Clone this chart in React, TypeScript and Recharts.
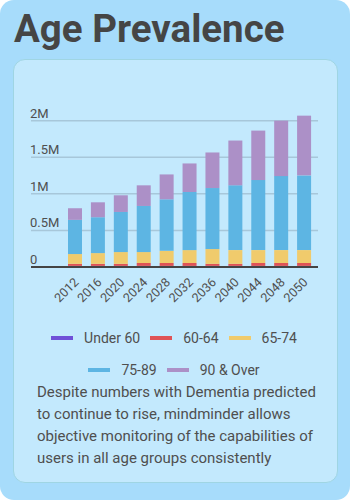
import React from 'react';
import { BarChart, Bar, XAxis, YAxis, CartesianGrid, Legend } from 'recharts';

const years = ['2012', '2016', '2020', '2024', '2028', '2032', '2036', '2040', '2044', '2048', '2050'];
const under60 = [15000, 15000, 15000, 15000, 15000, 15000, 15000, 15000, 15000, 15000, 15000];
const age6064 = [28000, 28000, 28000, 40000, 40000, 40000, 28000, 28000, 40000, 40000, 40000];
const age6574 = [134000, 147000, 161000, 149000, 167000, 176000, 202000, 188000, 176000, 176000, 176000];
const age7589 = [467000, 490000, 548000, 630000, 703000, 794000, 834000, 885000, 957000, 1011000, 1021000];
const age90plus = [159000, 204000, 228000, 282000, 340000, 390000, 486000, 612000, 676000, 758000, 816000];

const seriesNames = ['Under 60', '60-64', '65-74', '75-89', '90 & Over'];
const seriesKeys = ['u60', 'a6064', 'a6574', 'a7589', 'a90'];
const seriesColors = ['#6f50d8', '#df5356', '#f0cb6c', '#5db5e3', '#ac90c7'];

const yTicks = [0, 500000, 1000000, 1500000, 2000000];
const yTickLabels = ['0', '0.5M', '1M', '1.5M', '2M'];

const data = years.map((y, i) => ({
  year: y,
  u60: under60[i],
  a6064: age6064[i],
  a6574: age6574[i],
  a7589: age7589[i],
  a90: age90plus[i],
}));

const TEXT = '#4f4f4f';

const fmtY = (v: number) => {
  const idx = yTicks.indexOf(Number(v));
  return idx >= 0 ? yTickLabels[idx] : String(v);
};

const renderYTick = (props: any) => {
  const v = props.payload ? props.payload.value : 0;
  return (
    <text key={`yt-${v}`} x={30} y={props.y - 3} fill={TEXT} fontSize={13} fontFamily="Roboto" textAnchor="start">
      {fmtY(v)}
    </text>
  );
};

const renderXTick = (props: any) => {
  const X = props.x + 4;
  const Y = props.y + 8;
  return (
    <text key={`xt-${props.payload.value}`} x={X} y={Y} fill={TEXT} fontSize={12.5} fontFamily="Roboto" textAnchor="end" transform={`rotate(-45, ${X}, ${Y})`}>
      {props.payload.value}
    </text>
  );
};

const LegendContent = () => (
  <div style={{ display: 'flex', flexWrap: 'wrap', justifyContent: 'center', fontFamily: 'Roboto', fontSize: 14, color: TEXT }}>
    {seriesNames.map((n, i) => (
      <div key={n} style={{ display: 'flex', alignItems: 'center', height: 32, margin: '0 5px' }}>
        <span style={{ display: 'inline-block', width: 22, height: 4, background: seriesColors[i], marginRight: 11 }} />
        <span>{n}</span>
      </div>
    ))}
  </div>
);

export default function App() {
  return (
    <div style={{ width: 350, height: 500, position: 'relative', fontFamily: 'Roboto' }}>
      <style>{`body{margin:0}`}</style>
      <div style={{ position: 'absolute', left: 0, top: 0, width: 350, height: 500, background: '#a7dcfb', borderRadius: 14 }} />
      <div style={{ position: 'absolute', left: 14, top: 9.5, fontSize: 38.5, lineHeight: '38px', fontWeight: 700, color: '#454545', whiteSpace: 'nowrap' }}>
        Age Prevalence
      </div>
      <div style={{ position: 'absolute', left: 13, top: 59, width: 325, height: 424, background: '#c3e9fd', border: '1.5px solid #9fd5e3', borderRadius: 12, boxSizing: 'border-box' }} />
      <div style={{ position: 'absolute', left: 0, top: 0 }}>
        <BarChart width={350} height={390} data={data} margin={{ top: 106, right: 32, bottom: 4, left: 30 }} barSize={14}>
          <CartesianGrid horizontal vertical={false} stroke="#a7c7da" strokeWidth={1.5} horizontalValues={yTicks} />
          <XAxis dataKey="year" interval={0} height={55} padding={{ left: 33, right: 2 }} tickLine={false} axisLine={{ stroke: '#444', strokeWidth: 2 }} tick={renderXTick} />
          <YAxis width={1} domain={[0, 2200000]} ticks={yTicks} interval={0} axisLine={false} tickLine={false} tick={renderYTick} tickFormatter={fmtY} />
          <Legend verticalAlign="bottom" align="center" content={<LegendContent />} />
          {seriesKeys.map((k, i) => (
            <Bar key={k} dataKey={k} name={seriesNames[i]} stackId="a" fill={seriesColors[i]} isAnimationActive={false} />
          ))}
        </BarChart>
      </div>
      <div style={{ position: 'absolute', left: 37, top: 381.2, fontSize: 15, lineHeight: '22px', color: TEXT, whiteSpace: 'nowrap' }}>
        <div>Despite numbers with Dementia predicted</div>
        <div>to continue to rise, mindminder allows</div>
        <div>objective monitoring of the capabilities of</div>
        <div>users in all age groups consistently</div>
      </div>
    </div>
  );
}
